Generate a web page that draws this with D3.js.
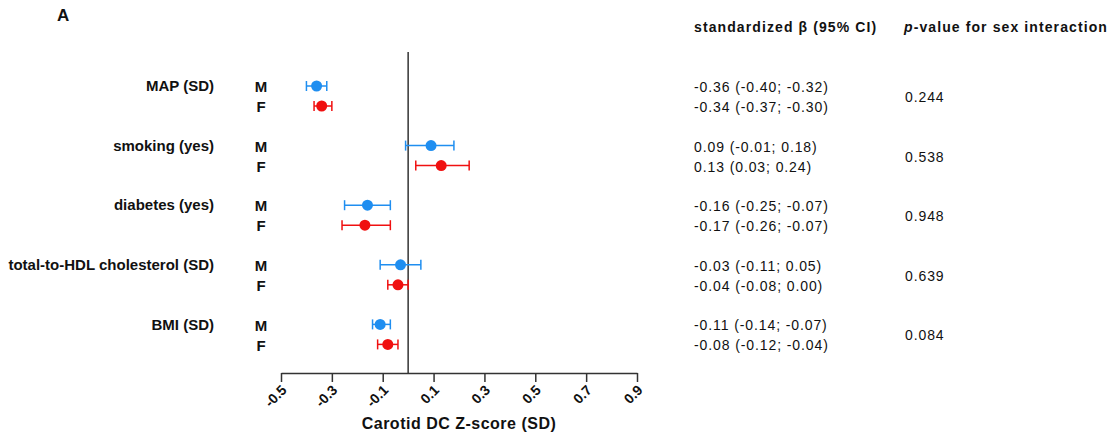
<!DOCTYPE html>
<meta charset="utf-8">
<style>
body { margin: 0; background: #fff; }
svg text { font-family: "Liberation Sans", Arial, sans-serif; fill: #111; }
.lbl { font-weight: bold; font-size: 15px; }
.sex { font-weight: bold; font-size: 15px; }
.est { font-size: 14px; letter-spacing: 0.9px; }
.head { font-weight: bold; font-size: 14px; letter-spacing: 1.1px; }
.axis text { font-weight: bold; font-size: 14px; }
</style>
<svg width="1119" height="437"></svg>
<script src="https://d3js.org/d3.v7.min.js"></script>
<script>

// data
var variables = ["MAP (SD)", "smoking (yes)", "diabetes (yes)", "total-to-HDL cholesterol (SD)", "BMI (SD)"]
var sexes = ["M", "F"]
var betaM = [-0.36, 0.09, -0.16, -0.03, -0.11]
var lowM  = [-0.40, -0.01, -0.25, -0.11, -0.14]
var highM = [-0.32, 0.18, -0.07, 0.05, -0.07]
var betaF = [-0.34, 0.13, -0.17, -0.04, -0.08]
var lowF  = [-0.37, 0.03, -0.26, -0.08, -0.12]
var highF = [-0.30, 0.24, -0.07, 0.00, -0.04]
var pValues = ["0.244", "0.538", "0.948", "0.639", "0.084"]
var tickValues = [-0.5, -0.3, -0.1, 0.1, 0.3, 0.5, 0.7, 0.9]

var colours = { M: "#1f8ef0", F: "#f01010" }

var svg = d3.select("svg")

var x = d3.scaleLinear().domain([-0.5, 0.9]).range([281, 637])

// rows: one band per variable, M and F inside
var y = d3.scaleBand().domain(variables).range([66, 364]).paddingInner(0)
var ySex = d3.scalePoint().domain(sexes).range([0, 20])
function rowY(v, s) { return y(v) + 20 + ySex(s) }

var rows = []
variables.forEach(function (v, i) {
	rows.push({ v: v, s: "M", b: betaM[i], lo: lowM[i], hi: highM[i] })
	rows.push({ v: v, s: "F", b: betaF[i], lo: lowF[i], hi: highF[i] })
})

function fmt(n) { return n.toFixed(2) }

// panel letter
svg.append("text").attr("x", 57).attr("y", 21)
	.style("font-weight", "bold").style("font-size", "17px").text("A")

// zero line
svg.append("line")
	.attr("x1", x(0)).attr("x2", x(0))
	.attr("y1", 52).attr("y2", 373)
	.attr("stroke", "#333").attr("stroke-width", 1.5)

// x axis
var axisG = svg.append("g").attr("class", "axis")
	.attr("transform", "translate(0,373)")
	.call(d3.axisBottom(x).tickValues(tickValues).tickSize(9).tickSizeOuter(0)
		.tickFormat(function (d) { return d.toFixed(1) }))
axisG.select(".domain").attr("stroke", "#333").attr("stroke-width", 1.5)
axisG.selectAll(".tick line").attr("stroke", "#333").attr("stroke-width", 1.5)
axisG.selectAll(".tick text")
	.attr("text-anchor", "end")
	.attr("dy", null)
	.attr("y", 0)
	.attr("transform", "translate(6,18) rotate(-45)")

svg.append("text").attr("x", x(0.2) - 0).attr("y", 429)
	.attr("text-anchor", "middle")
	.style("font-weight", "bold").style("font-size", "16px").style("letter-spacing", "0.5px")
	.text("Carotid DC Z-score (SD)")

// variable labels
svg.selectAll(".lbl").data(variables).enter().append("text")
	.attr("class", "lbl")
	.attr("x", 214).attr("y", function (d) { return rowY(d, "M") })
	.attr("dy", "0.35em").attr("text-anchor", "end")
	.text(function (d) { return d })

// M / F labels
svg.selectAll(".sex").data(rows).enter().append("text")
	.attr("class", "sex")
	.attr("x", 261).attr("y", function (d) { return rowY(d.v, d.s) + 1 })
	.attr("dy", "0.35em").attr("text-anchor", "middle")
	.text(function (d) { return d.s })

// error bars
var g = svg.selectAll(".ci").data(rows).enter().append("g").attr("class", "ci")
g.append("line")
	.attr("x1", function (d) { return x(d.lo) }).attr("x2", function (d) { return x(d.hi) })
	.attr("y1", function (d) { return rowY(d.v, d.s) }).attr("y2", function (d) { return rowY(d.v, d.s) })
	.attr("stroke", function (d) { return colours[d.s] }).attr("stroke-width", 1.5)
g.selectAll(".cap").data(function (d) { return [d.lo, d.hi].map(function (e) { return { e: e, d: d } }) })
	.enter().append("line")
	.attr("x1", function (c) { return x(c.e) }).attr("x2", function (c) { return x(c.e) })
	.attr("y1", function (c) { return rowY(c.d.v, c.d.s) - 5 })
	.attr("y2", function (c) { return rowY(c.d.v, c.d.s) + 5 })
	.attr("stroke", function (c) { return colours[c.d.s] }).attr("stroke-width", 1.5)
g.append("circle")
	.attr("cx", function (d) { return x(d.b) })
	.attr("cy", function (d) { return rowY(d.v, d.s) })
	.attr("r", 5.5)
	.attr("fill", function (d) { return colours[d.s] })

// right-hand table
svg.append("text").attr("class", "head").attr("x", 694).attr("y", 32)
	.text("standardized β (95% CI)")
var ph = svg.append("text").attr("class", "head").attr("x", 904).attr("y", 32)
ph.append("tspan").style("font-style", "italic").text("p")
ph.append("tspan").text("-value for sex interaction")

svg.selectAll(".est").data(rows).enter().append("text")
	.attr("class", "est")
	.attr("x", 694).attr("y", function (d) { return rowY(d.v, d.s) + 1 })
	.attr("dy", "0.35em")
	.text(function (d) { return fmt(d.b) + " (" + fmt(d.lo) + "; " + fmt(d.hi) + ")" })

svg.selectAll(".pv").data(variables).enter().append("text")
	.attr("class", "est")
	.attr("x", 905).attr("y", function (d) { return rowY(d, "M") + 11 })
	.attr("dy", "0.35em")
	.text(function (d, i) { return pValues[i] })

</script>
